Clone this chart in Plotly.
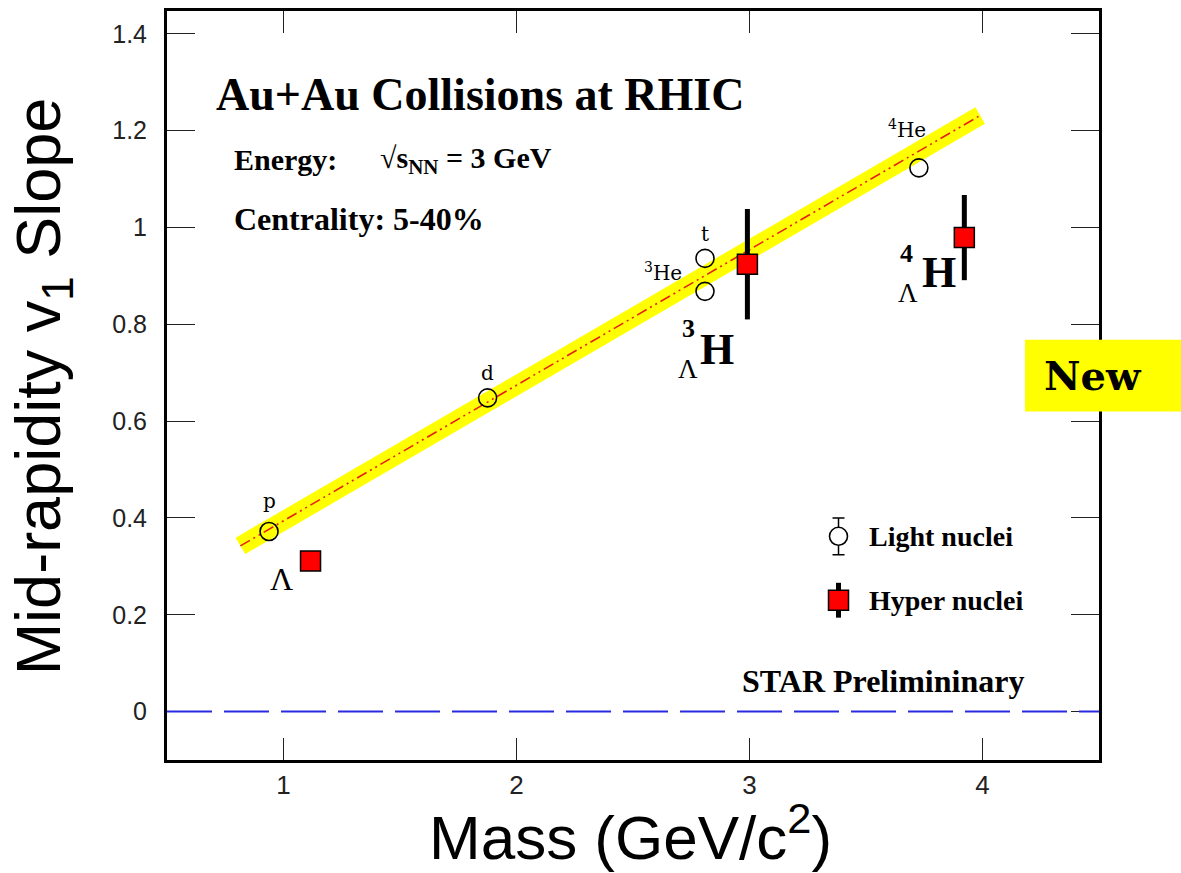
import plotly.graph_objects as go

# ---------------- data ----------------
light_names = ["p", "d", "t", "3He", "4He"]
light_mass = [0.938, 1.876, 2.809, 2.809, 3.727]
light_v1 = [0.372, 0.648, 0.936, 0.868, 1.123]

hyper_names = ["Lambda", "3LH", "4LH"]
hyper_mass = [1.116, 2.991, 3.922]
hyper_v1 = [0.311, 0.924, 0.979]
hyper_err = [0.0, 0.114, 0.088]

fit_x = [0.815, 3.99]
fit_slope = 0.280
fit_intercept = 0.114

x_ticks = [1, 2, 3, 4]
x_ticktext = ["1", "2", "3", "4"]
y_ticks = [0, 0.2, 0.4, 0.6, 0.8, 1.0, 1.2, 1.4]
y_ticktext = ["0", "0.2", "0.4", "0.6", "0.8", "1", "1.2", "1.4"]

# ---------------- styles ----------------
SERIF = "Liberation Serif, Times New Roman, serif"
SANS = "Liberation Sans, Arial, sans-serif"
SLAB = "DejaVu Serif, serif"

fig = go.Figure()

fit_y = [fit_intercept + fit_slope * x for x in fit_x]
# yellow band
fig.add_trace(go.Scatter(x=fit_x, y=fit_y, mode="lines",
                         line=dict(color="#FFFF00", width=19),
                         hoverinfo="skip", showlegend=False))
# red dash-dot-dot centre line
fig.add_trace(go.Scatter(x=fit_x, y=fit_y, mode="lines",
                         line=dict(color="#E8201A", width=1.6,
                                   dash="11px,4px,2px,4px,2px,4px"),
                         hoverinfo="skip", showlegend=False))

# light nuclei
fig.add_trace(go.Scatter(x=light_mass, y=light_v1, mode="markers",
                         marker=dict(symbol="circle-open", size=18,
                                     color="black", line=dict(width=1.6)),
                         showlegend=False))
# hyper nuclei
fig.add_trace(go.Scatter(x=hyper_mass, y=hyper_v1, mode="markers",
                         error_y=dict(type="data", array=hyper_err,
                                      color="black", thickness=5, width=0),
                         marker=dict(symbol="square", size=20, color="#FF0000",
                                     line=dict(color="black", width=1.5)),
                         showlegend=False))

# legend keys (layout positions)
LEG_X = 3.382
LEG_Y1 = 0.362
LEG_Y2 = 0.230
fig.add_trace(go.Scatter(x=[LEG_X], y=[LEG_Y1], mode="markers",
                         error_y=dict(type="constant", value=0.038, color="black",
                                      thickness=1.5, width=6),
                         marker=dict(symbol="circle", size=18, color="white",
                                     line=dict(color="black", width=1.6)),
                         showlegend=False, hoverinfo="skip"))
fig.add_trace(go.Scatter(x=[LEG_X], y=[LEG_Y2], mode="markers",
                         error_y=dict(type="constant", value=0.036, color="black",
                                      thickness=5, width=0),
                         marker=dict(symbol="square", size=20, color="#FF0000",
                                     line=dict(color="black", width=1.5)),
                         showlegend=False, hoverinfo="skip"))

annotations = []

def ann(text, x, y, size, family=SERIF, xref="x", yref="y", xanchor="center",
        yanchor="middle", xshift=0, yshift=0, **kw):
    annotations.append(dict(text=text, x=x, y=y, xref=xref, yref=yref,
                            showarrow=False, xanchor=xanchor, yanchor=yanchor,
                            xshift=xshift, yshift=yshift,
                            font=dict(family=family, size=size, color="black"), **kw))

# titles / info text
ann("<b>Au+Au Collisions at RHIC</b>", 1.845, 1.274, 46)
ann("<b>Energy:</b>", 0.781, 1.140, 30, xanchor="left")
ann("<b>√s<sub>NN</sub> = 3 GeV</b>", 1.404, 1.140, 30, xanchor="left")
ann("<b>Centrality: 5-40%</b>", 0.781, 1.017, 32, xanchor="left")

# light nuclei labels (relative to points)
light_labels = ["p", "d", "t", "<sup>3</sup>He", "<sup>4</sup>He"]
light_shift = [(0, 30), (0, 25), (0, 24), (-42, 19), (-12, 39)]
for lab, xm, yv, (dx, dy) in zip(light_labels, light_mass, light_v1, light_shift):
    ann(lab, xm, yv, 20, family=SLAB, xshift=dx, yshift=dy)

# hyper nuclei labels
ann("Λ", hyper_mass[0], hyper_v1[0], 32, xshift=-29, yshift=-18)
ann("<b>H</b>", hyper_mass[1], hyper_v1[1], 44, xshift=-30, yshift=-85)
ann("<b>3</b>", hyper_mass[1], hyper_v1[1], 26, xshift=-59, yshift=-64)
ann("Λ", hyper_mass[1], hyper_v1[1], 27, xshift=-59, yshift=-105)
ann("<b>H</b>", hyper_mass[2], hyper_v1[2], 44, xshift=-25, yshift=-35)
ann("<b>4</b>", hyper_mass[2], hyper_v1[2], 26, xshift=-58, yshift=-16)
ann("Λ", hyper_mass[2], hyper_v1[2], 27, xshift=-56, yshift=-55)

# legend text
ann("<b>Light nuclei</b>", LEG_X, LEG_Y1, 28, xanchor="left", xshift=28)
ann("<b>Hyper nuclei</b>", LEG_X, LEG_Y2, 28, xanchor="left", xshift=28)
ann("<b>STAR Prelimininary</b>", 4.185, 0.064, 32, xanchor="right")

# axis titles
ann("Mass (GeV/c<sup>2</sup>)", 0.497, -0.152, 62, family=SANS,
    xref="paper", yref="paper", yanchor="bottom")
ann("Mid-rapidity v<sub>1</sub> Slope", -0.134, 0.499, 63, family=SANS,
    xref="paper", yref="paper", textangle=-90)

# "New" badge
ann("<b>New</b>", 0.9936, 0.513, 40, family=SLAB, xref="paper", yref="paper")

shapes = [
    dict(type="line", xref="paper", yref="y", x0=0, x1=1, y0=0, y1=0,
         line=dict(color="#2A2AE0", width=2, dash="45px,12px"), layer="above"),
    dict(type="rect", xref="paper", yref="paper", x0=0.9206, x1=1.09,
         y0=0.4654, y1=0.5612, fillcolor="#FFFF00", line=dict(width=0),
         layer="above"),
]

fig.update_layout(
    width=1181, height=873,
    margin=dict(l=167, r=82, t=8, b=113),
    paper_bgcolor="white", plot_bgcolor="white",
    showlegend=False,
    annotations=annotations,
    shapes=shapes,
    xaxis=dict(range=[0.5, 4.5], tickvals=x_ticks, ticktext=x_ticktext,
               ticks="inside", ticklen=22, tickwidth=1.3, tickcolor="#222",
               showline=True, linewidth=3, linecolor="black", mirror="ticks",
               showgrid=False, zeroline=False, ticklabelstandoff=0,
               tickfont=dict(family=SANS, size=26, color="#222")),
    yaxis=dict(range=[-0.1, 1.447], tickvals=y_ticks, ticktext=y_ticktext,
               ticks="inside", ticklen=28, tickwidth=1.3, tickcolor="#222",
               showline=True, linewidth=3, linecolor="black", mirror="ticks",
               showgrid=False, zeroline=False, ticklabelstandoff=12,
               tickfont=dict(family=SANS, size=25, color="#222")),
)

fig.write_html("out.html")
